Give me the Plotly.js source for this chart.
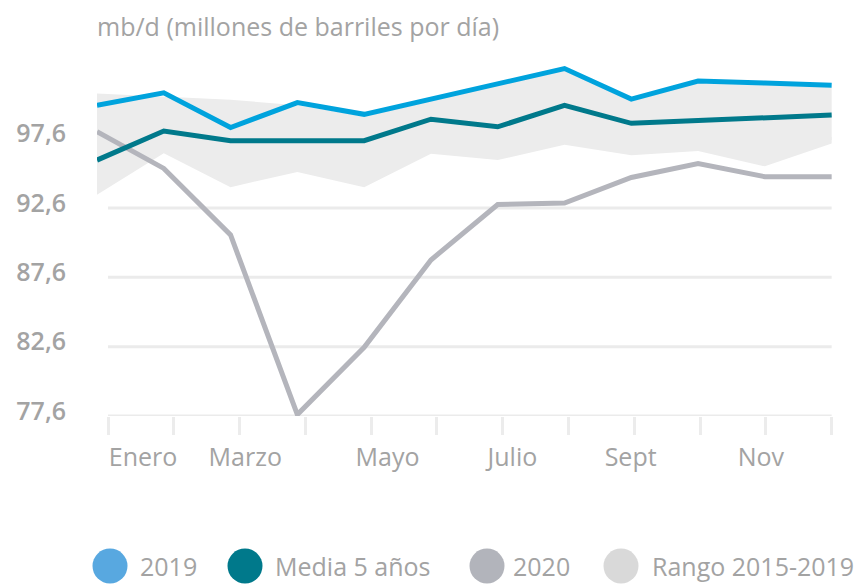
<!DOCTYPE html>
<html>
<head>
<meta charset="utf-8">
<script src="https://cdn.plot.ly/plotly-3.0.1.min.js"></script>
<style>
  html, body { margin: 0; padding: 0; background: #ffffff; }
  #chart { width: 866px; height: 584px; }
</style>
</head>
<body>
<div id="chart"></div>
<script>
// ---- Data (mb/d) ----
const months = ['Ene','Feb','Mar','Abr','May','Jun','Jul','Ago','Sep','Oct','Nov','Dic'];
const serie2019 = [100.0, 100.9, 98.4, 100.2, 99.35, 100.45, 101.6, 102.65, 100.45, 101.75, 101.6, 101.45];
const media5 = [96.05, 98.15, 97.45, 97.45, 97.45, 99.0, 98.45, 100.0, 98.7, 98.9, 99.1, 99.3];
const serie2020 = [98.1, 95.45, 90.65, 77.7, 82.55, 88.85, 92.85, 92.95, 94.8, 95.8, 94.85, 94.85];
const rangoMax = [100.85, 100.65, 100.4, 100.0, 99.2, 100.3, 101.45, 102.5, 100.3, 101.6, 101.45, 101.3];
const rangoMin = [93.55, 96.55, 94.1, 95.2, 94.1, 96.5, 96.05, 97.15, 96.4, 96.7, 95.6, 97.25];

const monthLabels = ['Enero','Marzo','Mayo','Julio','Sept','Nov'];
const yTicks = [77.6, 82.6, 87.6, 92.6, 97.6];
const legendNames = ['2019','Media 5 años','2020','Rango 2015-2019'];
const titleText = 'mb/d (millones de barriles por día)';

// ---- Styling / layout ----
const C2019 = '#00a3dd', CMEDIA = '#00798b', C2020 = '#b4b5bc', CRANGO = '#ececec';
const legendColors = ['#58a8e0', '#00798b', '#b2b4bb', '#d9d9d9'];
const TXT = '#a3a3a3';
const FONT = '"Open Sans", "Noto Sans", sans-serif';
const WEIGHT = 500;

const x = months.map((m, i) => i);
const W = 866, H = 584;
const M = {l: 97, r: 31, t: 50, b: 168};
const plotW = W - M.l - M.r, plotH = H - M.t - M.b;
const xr = [0, 11.05];
const yr = [77.6, 77.6 + plotH / 13.87];

// positions of the decorative tick marks and the month labels (axis units)
const tickPos = months.map((m, i) => 0.165 + i * (11.0 - 0.165) / 11);
const labelPos = [0.69, 2.22, 4.35, 6.22, 7.99, 9.94];

const pxX = px => (px - M.l) / plotW;
const pxY = py => (H - M.b - py) / plotH;

const traces = [
  {x: x, y: rangoMin, type: 'scatter', mode: 'lines', line: {width: 0, color: CRANGO}, showlegend: false, hoverinfo: 'skip'},
  {x: x, y: rangoMax, type: 'scatter', mode: 'lines', fill: 'tonexty', fillcolor: CRANGO, line: {width: 0, color: CRANGO}, showlegend: false, hoverinfo: 'skip'},
  {x: x, y: serie2020, type: 'scatter', mode: 'lines', line: {width: 5, color: C2020}, showlegend: false},
  {x: x, y: media5, type: 'scatter', mode: 'lines', line: {width: 5, color: CMEDIA}, showlegend: false},
  {x: x, y: serie2019, type: 'scatter', mode: 'lines', line: {width: 5, color: C2019}, showlegend: false}
];

const shapes = [];
yTicks.forEach(v => {
  shapes.push({type: 'line', xref: 'x', yref: 'y', x0: tickPos[0], x1: tickPos[tickPos.length - 1], y0: v, y1: v,
               line: {color: '#ebebeb', width: 3}, layer: 'below'});
});

// custom legend (big round swatches)
const legCircleX = [110, 245, 487, 621];
const legTextX = [140, 275, 513, 652];
const legY = 566, legR = 17.5;
const annotations = [];
legendNames.forEach((name, i) => {
  shapes.push({type: 'circle', xref: 'paper', yref: 'paper',
               x0: pxX(legCircleX[i] - legR), x1: pxX(legCircleX[i] + legR),
               y0: pxY(legY + legR), y1: pxY(legY - legR),
               fillcolor: legendColors[i], line: {width: 0}});
  annotations.push({xref: 'paper', yref: 'paper', x: pxX(legTextX[i] - 2), y: pxY(legY),
                    xanchor: 'left', yanchor: 'middle', showarrow: false, text: name,
                    font: {family: FONT, size: 25, color: TXT, weight: WEIGHT}});
});

const layout = {
  width: W, height: H,
  margin: M,
  paper_bgcolor: '#ffffff', plot_bgcolor: '#ffffff',
  separators: ',.',
  font: {family: FONT, size: 25, color: TXT},
  title: {text: titleText, xref: 'paper', x: 0, xanchor: 'left', yref: 'container', y: 1 - 27 / H, yanchor: 'middle',
          font: {family: FONT, size: 25, color: TXT, weight: WEIGHT}},
  xaxis: {
    range: xr, showgrid: false, zeroline: false, showline: false,
    tickmode: 'array', tickvals: labelPos, ticktext: monthLabels,
    ticks: '', ticklabelstandoff: 24,
    tickfont: {family: FONT, size: 25, color: TXT, weight: WEIGHT},
    minor: {tickmode: 'array', tickvals: tickPos, ticks: 'outside', ticklen: 18, tickwidth: 3, tickcolor: '#ececec', showgrid: false}
  },
  yaxis: {
    range: yr, showgrid: false, zeroline: false, showline: false,
    tickmode: 'array', tickvals: yTicks, tickformat: '.1f',
    ticks: '', ticklabelstandoff: 30, ticklabelshift: -5,
    tickfont: {family: FONT, size: 25, color: TXT, weight: 600}
  },
  shapes: shapes,
  annotations: annotations,
  hovermode: false
};

Plotly.newPlot('chart', traces, layout, {staticPlot: true, displayModeBar: false});
</script>
</body>
</html>
